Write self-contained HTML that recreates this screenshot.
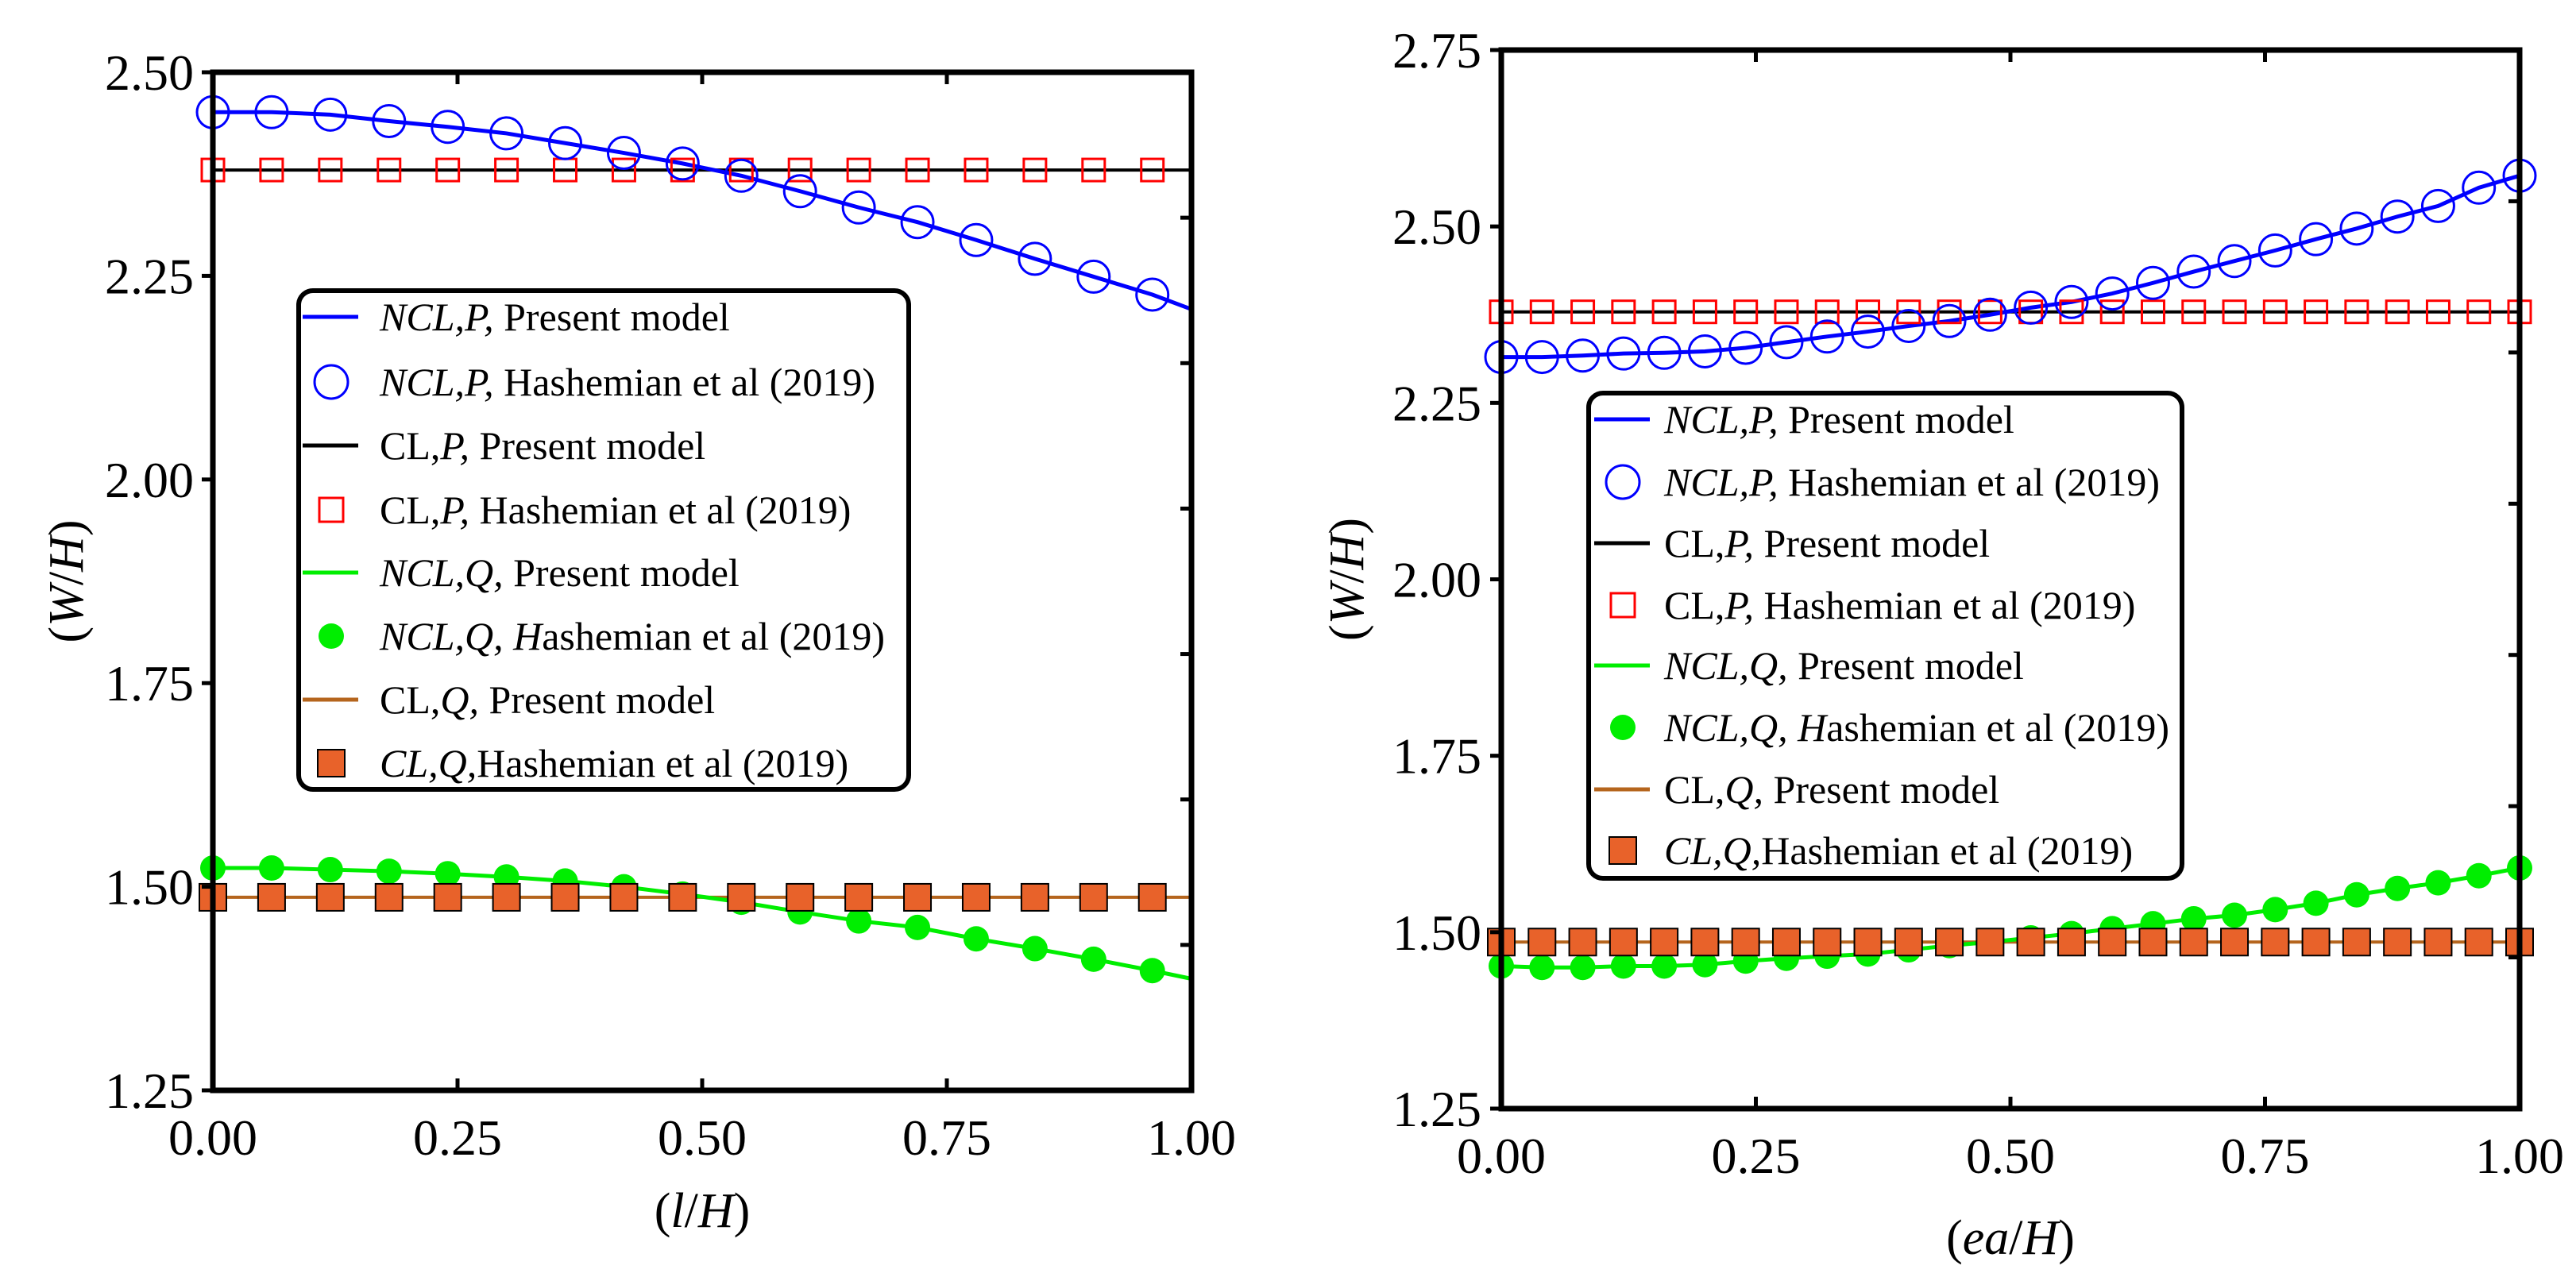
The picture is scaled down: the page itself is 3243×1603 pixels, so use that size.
<!DOCTYPE html>
<html><head><meta charset="utf-8"><style>
html,body{margin:0;padding:0;background:#fff;}
svg{display:block;font-family:"Liberation Serif","Times New Roman",serif;}
</style></head><body>
<svg id="fig" width="3243" height="1603" viewBox="0 0 3243 1603" xmlns="http://www.w3.org/2000/svg"></svg>
<script>
// ---- Left chart data ----
const xLeft = [0,0.06,0.12,0.18,0.24,0.30,0.36,0.42,0.48,0.54,0.60,0.66,0.72,0.78,0.84,0.90,0.96];
const nclPLeft = [2.451,2.451,2.448,2.440,2.433,2.425,2.413,2.401,2.388,2.373,2.354,2.334,2.316,2.294,2.271,2.249,2.227];
const nclPLeftEnd = 2.209;
const clPLeft = 2.380;
const nclQLeft = [1.523,1.523,1.521,1.519,1.516,1.512,1.507,1.500,1.491,1.481,1.469,1.458,1.450,1.436,1.424,1.411,1.397];
const nclQLeftEnd = 1.387;
const clQLeft = 1.487;
const yTicksLeft = ["1.25","1.50","1.75","2.00","2.25","2.50"];
// ---- Right chart data ----
const xRight = [0,0.04,0.08,0.12,0.16,0.20,0.24,0.28,0.32,0.36,0.40,0.44,0.48,0.52,0.56,0.60,0.64,0.68,0.72,0.76,0.80,0.84,0.88,0.92,0.96,1.00];
const nclPRight = [2.315,2.315,2.317,2.320,2.321,2.323,2.328,2.336,2.344,2.351,2.359,2.366,2.375,2.385,2.393,2.405,2.420,2.436,2.451,2.466,2.482,2.497,2.514,2.529,2.555,2.572];
const clPRight = 2.379;
const nclQRight = [1.452,1.450,1.450,1.452,1.452,1.454,1.459,1.463,1.466,1.469,1.475,1.481,1.486,1.492,1.498,1.505,1.512,1.519,1.524,1.532,1.541,1.553,1.562,1.570,1.580,1.591];
const clQRight = 1.486;
const yTicksRight = ["1.25","1.50","1.75","2.00","2.25","2.50","2.75"];
const xTicks = ["0.00","0.25","0.50","0.75","1.00"];

const NS="http://www.w3.org/2000/svg";
const svg=document.getElementById('fig');
function mk(tag,attrs,parent){const e=document.createElementNS(NS,tag);for(const k in attrs)e.setAttribute(k,attrs[k]);(parent||svg).appendChild(e);return e;}

function chart(cfg){
  const g=mk('g',{});
  
  
  const X=v=>cfg.L+(v-0)/(1-0)*(cfg.R-cfg.L);
  const Y=v=>cfg.B-(v-cfg.ymin)/(cfg.ymax-cfg.ymin)*(cfg.B-cfg.T);
  const clp=mk('line',{x1:X(0),x2:X(1),y1:Y(cfg.clP),y2:Y(cfg.clP),stroke:'#000','stroke-width':4},g);
  
  
  const clq=mk('line',{x1:X(0),x2:X(1),y1:Y(cfg.clQ),y2:Y(cfg.clQ),stroke:'#b5651d','stroke-width':4},g);
  
  
  let pp=cfg.xs.map((x,i)=>X(x)+','+Y(cfg.p[i]));
  if(cfg.pEnd!==undefined) pp.push(X(1)+','+Y(cfg.pEnd));
  const lp=mk('polyline',{points:pp.join(' '),fill:'none',stroke:'#0000ff','stroke-width':5},g);
  
  
  let qq=cfg.xs.map((x,i)=>X(x)+','+Y(cfg.q[i]));
  if(cfg.qEnd!==undefined) qq.push(X(1)+','+Y(cfg.qEnd));
  const lq=mk('polyline',{points:qq.join(' '),fill:'none',stroke:'#00ee00','stroke-width':5},g);
  
  
  cfg.xs.forEach((x,i)=>{
    const c=mk('circle',{cx:X(x),cy:Y(cfg.q[i]),r:16,fill:'#00ee00'},g);
    
    
  });
  cfg.xs.forEach((x,i)=>{
    const s=mk('rect',{x:X(x)-17,y:Y(cfg.clQ)-17,width:34,height:34,fill:'#e8622a',stroke:'#000','stroke-width':2},g);
    
    
  });
  cfg.xs.forEach((x,i)=>{
    const s=mk('rect',{x:X(x)-14,y:Y(cfg.clP)-14,width:28,height:28,fill:'none',stroke:'#ff0000','stroke-width':3},g);
    
    
  });
  cfg.xs.forEach((x,i)=>{
    const c=mk('circle',{cx:X(x),cy:Y(cfg.p[i]),r:20,fill:'none',stroke:'#0000ff','stroke-width':3},g);
    
    
  });
  const fr=mk('rect',{x:cfg.L,y:cfg.T,width:cfg.R-cfg.L,height:cfg.B-cfg.T,fill:'none',stroke:'#000','stroke-width':7},g);
  
  
  cfg.yt.forEach(t=>{
    const y=Y(parseFloat(t));
    mk('line',{x1:cfg.L-14,x2:cfg.L,y1:y,y2:y,stroke:'#000','stroke-width':5},g);
    const tx=mk('text',{x:cfg.ylR,y:y+22,'font-size':64,'text-anchor':'end',fill:'#000'},g);
    tx.textContent=t;
    
    
  });
  for(let k=1;k<7;k++){const y=cfg.T+k*(cfg.B-cfg.T)/7;mk('line',{x1:cfg.R-14,x2:cfg.R,y1:y,y2:y,stroke:'#000','stroke-width':5},g);}
  xTicks.forEach(t=>{
    const x=X(parseFloat(t));
    mk('line',{x1:x,x2:x,y1:cfg.B,y2:cfg.B-15,stroke:'#000','stroke-width':5},g);
    mk('line',{x1:x,x2:x,y1:cfg.T,y2:cfg.T+15,stroke:'#000','stroke-width':5},g);
    const tx=mk('text',{x:x,y:cfg.xlY,'font-size':64,'text-anchor':'middle',fill:'#000'},g);
    tx.textContent=t;
    
    
  });
  const yt=mk('text',{x:0,y:0,'font-size':62,'text-anchor':'middle',transform:`translate(${cfg.ytX+20},${(cfg.T+cfg.B)/2})`+' rotate(-90)'},g);
  yt.innerHTML='(<tspan font-style="italic">W</tspan>/<tspan font-style="italic">H</tspan>)';
  
  
  const xt=mk('text',{x:(cfg.L+cfg.R)/2,y:cfg.xtY,'font-size':62,'text-anchor':'middle'},g);
  xt.innerHTML='(<tspan font-style="italic">'+cfg.xv+'</tspan>/<tspan font-style="italic">H</tspan>)';
  
  
  const lg=mk('g',{},g);
  
  
  mk('rect',{x:cfg.lg.x,y:cfg.lg.y,width:cfg.lg.w,height:cfg.lg.h,rx:18,fill:'#fff',stroke:'#000','stroke-width':6},lg);
  const ent=[
    ['line','#0000ff','<tspan font-style="italic">NCL,P,</tspan> Present model'],
    ['circ','','<tspan font-style="italic">NCL,P,</tspan> Hashemian et al (2019)'],
    ['line','#000','CL,<tspan font-style="italic">P,</tspan> Present model'],
    ['osq','','CL,<tspan font-style="italic">P,</tspan> Hashemian et al (2019)'],
    ['line','#00ee00','<tspan font-style="italic">NCL,Q,</tspan> Present model'],
    ['dot','','<tspan font-style="italic">NCL,Q,  H</tspan>ashemian et al (2019)'],
    ['line','#b5651d','CL,<tspan font-style="italic">Q,</tspan> Present model'],
    ['fsq','','<tspan font-style="italic">CL,Q,</tspan>Hashemian et al (2019)']];
  ent.forEach((e,i)=>{
    const y=cfg.lg.rows[i];
    const eg=mk('g',{},lg);
    
    
    const sx=cfg.lg.sx, mx=sx+36;
    if(e[0]==='line') mk('line',{x1:sx,x2:sx+70,y1:y,y2:y,stroke:e[1],'stroke-width':5},eg);
    if(e[0]==='circ') mk('circle',{cx:mx,cy:y,r:21,fill:'none',stroke:'#0000ff','stroke-width':3},eg);
    if(e[0]==='osq') mk('rect',{x:mx-15,y:y-15,width:30,height:30,fill:'none',stroke:'#ff0000','stroke-width':3},eg);
    if(e[0]==='dot') mk('circle',{cx:mx,cy:y,r:16,fill:'#00ee00'},eg);
    if(e[0]==='fsq') mk('rect',{x:mx-17,y:y-17,width:34,height:34,fill:'#e8622a',stroke:'#000','stroke-width':2},eg);
    const t=mk('text',{x:cfg.lg.tx,y:y+17,'font-size':50},eg);
    t.innerHTML=e[2];
  });
}
chart({name:'left-chart',L:268,R:1500,T:91,B:1373,ymin:1.25,ymax:2.5,xs:xLeft,p:nclPLeft,pEnd:nclPLeftEnd,q:nclQLeft,qEnd:nclQLeftEnd,clP:clPLeft,clQ:clQLeft,yt:yTicksLeft,ylR:244,xlY:1454,ytX:84,xtY:1545,xv:'l',
  lg:{x:376,y:366,w:768,h:628,sx:381,tx:478,rows:[399,481,561,642,721,801,881,961]}});
chart({name:'right-chart',L:1890,R:3172,T:63,B:1396,ymin:1.25,ymax:2.75,xs:xRight,p:nclPRight,q:nclQRight,clP:clPRight,clQ:clQRight,yt:yTicksRight,ylR:1865,xlY:1477,ytX:1696,xtY:1579,xv:'ea',
  lg:{x:2000,y:495,w:747,h:611,sx:2007,tx:2095,rows:[528,607,684,762,838,916,994,1071]}});
</script>
</body></html>
